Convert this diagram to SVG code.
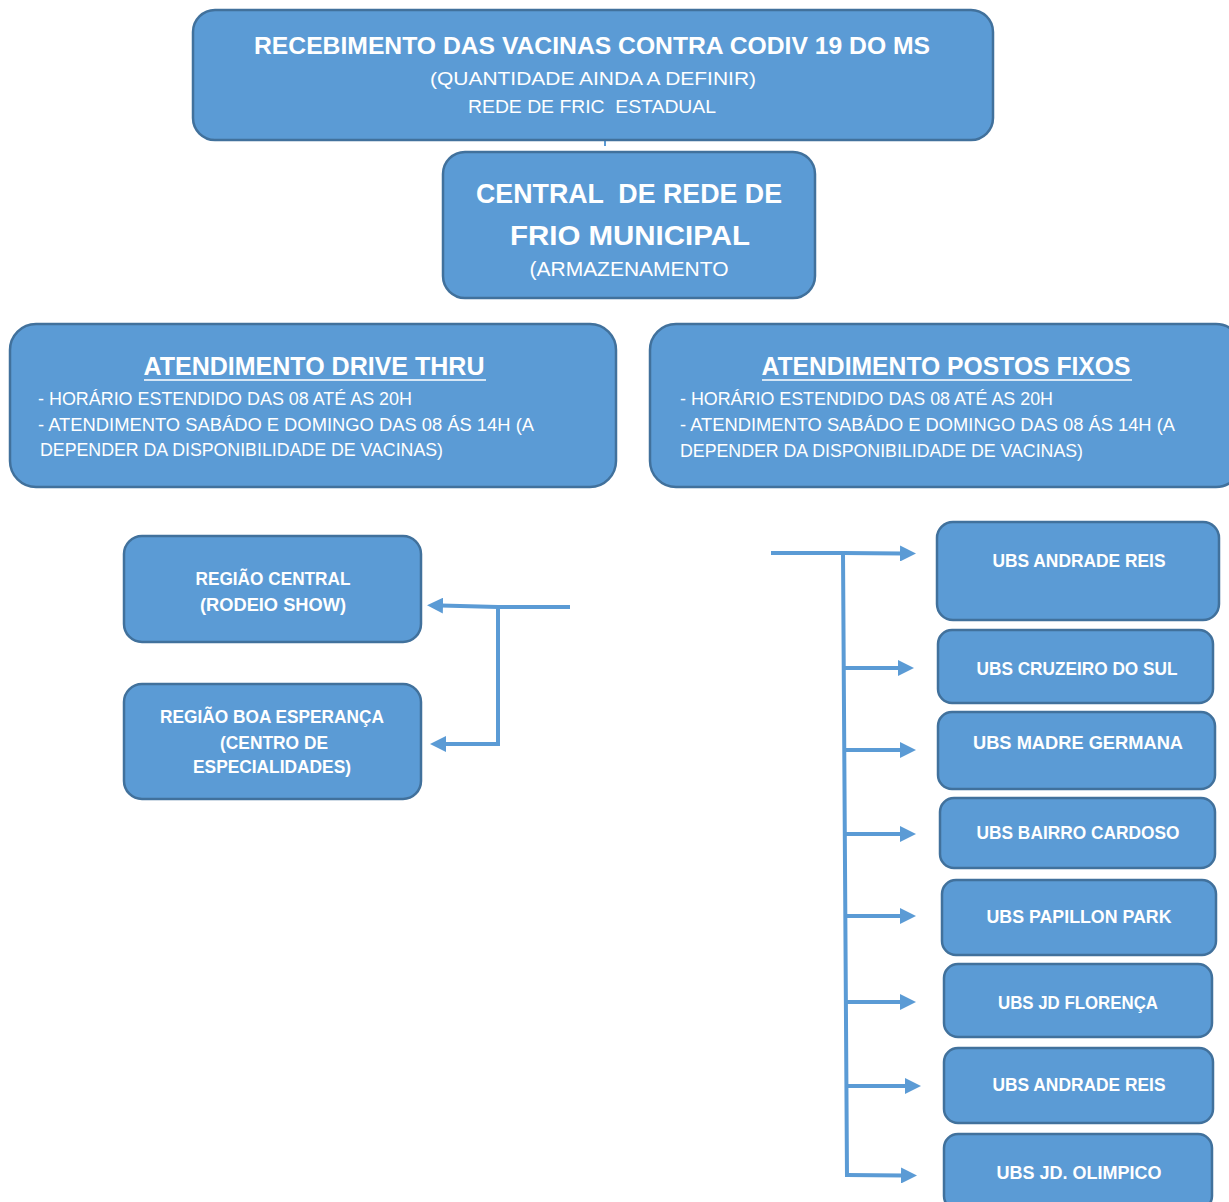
<svg xmlns="http://www.w3.org/2000/svg" width="1229" height="1202" viewBox="0 0 1229 1202">
<style>
.box{fill:#5B9BD5;stroke:#41719C;stroke-width:2.5}
text{fill:#fff;font-family:"Liberation Sans",Arial,sans-serif;text-anchor:middle}
.b{font-weight:bold}
.l{text-anchor:start}
.c{fill:none;stroke:#5B9BD5;stroke-width:4}
</style>
<defs>
<marker id="ah" markerUnits="userSpaceOnUse" markerWidth="16" markerHeight="16" refX="2" refY="8" orient="auto" viewBox="0 0 16 16">
<path d="M0,0 L16,8 L0,16 Z" fill="#5B9BD5"/>
</marker>
</defs>
<rect width="1229" height="1202" fill="#fff"/>
<g id="connectors">
<line x1="605" y1="140" x2="605" y2="146" stroke="#5B9BD5" stroke-width="2"/>
<polyline class="c" points="570,607 498,607 498,744 444,744" marker-end="url(#ah)"/>
<line class="c" x1="498" y1="607" x2="441" y2="605.5" marker-end="url(#ah)"/>
<polyline class="c" points="771,553 843,553 847,1177"/>
<line class="c" x1="843" y1="553" x2="902" y2="553.5" marker-end="url(#ah)"/>
<line class="c" x1="844" y1="668" x2="900" y2="668" marker-end="url(#ah)"/>
<line class="c" x1="844" y1="750" x2="902" y2="750" marker-end="url(#ah)"/>
<line class="c" x1="845" y1="834" x2="902" y2="834" marker-end="url(#ah)"/>
<line class="c" x1="845" y1="916" x2="902" y2="916" marker-end="url(#ah)"/>
<line class="c" x1="846" y1="1002" x2="902" y2="1002" marker-end="url(#ah)"/>
<line class="c" x1="846" y1="1086" x2="907" y2="1086" marker-end="url(#ah)"/>
<line class="c" x1="847" y1="1175" x2="903" y2="1175.5" marker-end="url(#ah)"/>
</g>
<g id="n-recebimento">
<rect class="box" x="193" y="10" width="800" height="130" rx="22"/>
<text class="b" x="592" y="54" font-size="24" textLength="676" lengthAdjust="spacingAndGlyphs">RECEBIMENTO DAS VACINAS CONTRA CODIV 19 DO MS</text>
<text x="593" y="85" font-size="19" textLength="326" lengthAdjust="spacingAndGlyphs">(QUANTIDADE AINDA A DEFINIR)</text>
<text x="592" y="113" font-size="19" textLength="248" lengthAdjust="spacingAndGlyphs" xml:space="preserve">REDE DE FRIC  ESTADUAL</text>
</g>
<g id="n-central">
<rect class="box" x="443" y="152" width="372" height="146" rx="22"/>
<text class="b" x="629" y="203" font-size="28" textLength="306" lengthAdjust="spacingAndGlyphs" xml:space="preserve">CENTRAL  DE REDE DE</text>
<text class="b" x="630" y="245" font-size="28" textLength="240" lengthAdjust="spacingAndGlyphs">FRIO MUNICIPAL</text>
<text x="629" y="276" font-size="20" textLength="199" lengthAdjust="spacingAndGlyphs">(ARMAZENAMENTO</text>
</g>
<g id="n-drive">
<rect class="box" x="10" y="324" width="606" height="163" rx="26"/>
<text class="b" x="314" y="375" font-size="25" textLength="341" lengthAdjust="spacingAndGlyphs">ATENDIMENTO DRIVE THRU</text>
<line x1="144" y1="380" x2="486" y2="380" stroke="#fff" stroke-width="1.5"/>
<text class="l" x="38" y="405" font-size="18" textLength="374" lengthAdjust="spacingAndGlyphs">- HORÁRIO ESTENDIDO DAS 08 ATÉ AS 20H</text>
<text class="l" x="38" y="431" font-size="18" textLength="496" lengthAdjust="spacingAndGlyphs">- ATENDIMENTO SABÁDO E DOMINGO DAS 08 ÁS 14H (A</text>
<text class="l" x="40" y="456" font-size="18" textLength="403" lengthAdjust="spacingAndGlyphs">DEPENDER DA DISPONIBILIDADE DE VACINAS)</text>
</g>
<g id="n-postos">
<rect class="box" x="650" y="324" width="592" height="163" rx="26"/>
<text class="b" x="946" y="375" font-size="25" textLength="369" lengthAdjust="spacingAndGlyphs">ATENDIMENTO POSTOS FIXOS</text>
<line x1="762" y1="380" x2="1132" y2="380" stroke="#fff" stroke-width="1.5"/>
<text class="l" x="680" y="405" font-size="18" textLength="373" lengthAdjust="spacingAndGlyphs">- HORÁRIO ESTENDIDO DAS 08 ATÉ AS 20H</text>
<text class="l" x="680" y="431" font-size="18" textLength="495" lengthAdjust="spacingAndGlyphs">- ATENDIMENTO SABÁDO E DOMINGO DAS 08 ÁS 14H (A</text>
<text class="l" x="680" y="457" font-size="18" textLength="403" lengthAdjust="spacingAndGlyphs">DEPENDER DA DISPONIBILIDADE DE VACINAS)</text>
</g>
<g id="n-regiao-central">
<rect class="box" x="124" y="536" width="297" height="106" rx="18"/>
<text class="b" x="273" y="585" font-size="18" textLength="155" lengthAdjust="spacingAndGlyphs">REGIÃO CENTRAL</text>
<text class="b" x="273" y="611" font-size="18" textLength="146" lengthAdjust="spacingAndGlyphs">(RODEIO SHOW)</text>
</g>
<g id="n-regiao-boa">
<rect class="box" x="124" y="684" width="297" height="115" rx="18"/>
<text class="b" x="272" y="723" font-size="18" textLength="224" lengthAdjust="spacingAndGlyphs">REGIÃO BOA ESPERANÇA</text>
<text class="b" x="274" y="749" font-size="18" textLength="108" lengthAdjust="spacingAndGlyphs">(CENTRO DE</text>
<text class="b" x="272" y="773" font-size="18" textLength="158" lengthAdjust="spacingAndGlyphs">ESPECIALIDADES)</text>
</g>
<g id="n-ubs-andrade-1">
<rect class="box" x="937" y="522" width="282" height="98" rx="16"/>
<text class="b" x="1079" y="567" font-size="18" textLength="173" lengthAdjust="spacingAndGlyphs">UBS ANDRADE REIS</text>
</g>
<g id="n-ubs-cruzeiro">
<rect class="box" x="938" y="630" width="275" height="73" rx="14"/>
<text class="b" x="1077" y="675" font-size="18" textLength="201" lengthAdjust="spacingAndGlyphs">UBS CRUZEIRO DO SUL</text>
</g>
<g id="n-ubs-madre">
<rect class="box" x="938" y="712" width="277" height="77" rx="14"/>
<text class="b" x="1078" y="749" font-size="18" textLength="210" lengthAdjust="spacingAndGlyphs">UBS MADRE GERMANA</text>
</g>
<g id="n-ubs-cardoso">
<rect class="box" x="940" y="798" width="275" height="70" rx="14"/>
<text class="b" x="1078" y="839" font-size="18" textLength="203" lengthAdjust="spacingAndGlyphs">UBS BAIRRO CARDOSO</text>
</g>
<g id="n-ubs-papillon">
<rect class="box" x="942" y="880" width="274" height="75" rx="14"/>
<text class="b" x="1079" y="923" font-size="18" textLength="185" lengthAdjust="spacingAndGlyphs">UBS PAPILLON PARK</text>
</g>
<g id="n-ubs-florenca">
<rect class="box" x="944" y="964" width="268" height="73" rx="14"/>
<text class="b" x="1078" y="1009" font-size="18" textLength="160" lengthAdjust="spacingAndGlyphs">UBS JD FLORENÇA</text>
</g>
<g id="n-ubs-andrade-2">
<rect class="box" x="944" y="1048" width="269" height="75" rx="14"/>
<text class="b" x="1079" y="1091" font-size="18" textLength="173" lengthAdjust="spacingAndGlyphs">UBS ANDRADE REIS</text>
</g>
<g id="n-ubs-olimpico">
<rect class="box" x="944" y="1134" width="268" height="76" rx="14"/>
<text class="b" x="1079" y="1179" font-size="18" textLength="165" lengthAdjust="spacingAndGlyphs">UBS JD. OLIMPICO</text>
</g>
</svg>
